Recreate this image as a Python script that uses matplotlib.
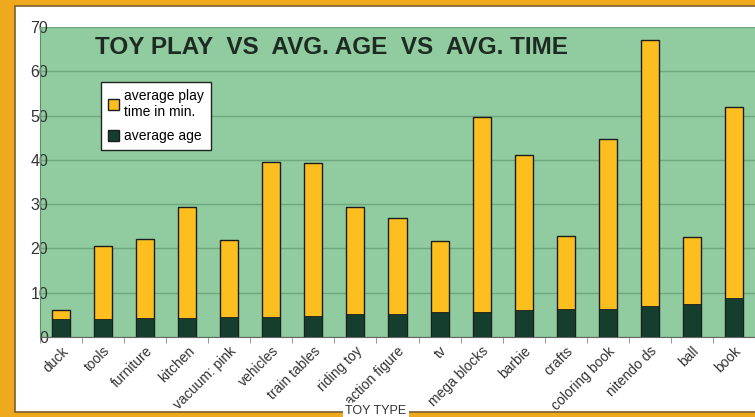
import numpy as np
import matplotlib
matplotlib.use("Agg")
import matplotlib.pyplot as plt
from matplotlib.patches import Rectangle, Patch

toys = ["duck", "tools", "furniture", "kitchen", "vacuum: pink", "vehicles",
        "train tables", "riding toy", "action figure", "tv", "mega blocks",
        "barbie", "crafts", "coloring book", "nitendo ds", "ball", "book"]
play_time = [6.0, 20.5, 22.2, 29.3, 22.0, 39.5, 39.3, 29.3, 26.9, 21.6,
             49.7, 41.0, 22.7, 44.8, 67.0, 22.5, 51.9]
avg_age = [4.0, 4.15, 4.4, 4.4, 4.6, 4.6, 4.8, 5.1, 5.3, 5.6,
           5.6, 6.1, 6.3, 6.3, 7.0, 7.5, 8.7]
yticks = [0, 10, 20, 30, 40, 50, 60, 70]

plt.rcParams['font.family'] = ['Liberation Sans', 'DejaVu Sans']

yellow = '#fdbf1f'
dark = '#163e2e'
green = '#90cc9f'
grid_green = '#6fa87f'

fig = plt.figure(figsize=(7.55, 4.17), dpi=100)
fig.patch.set_facecolor('#efa91c')

# white panel behind the chart
panel = Rectangle((15 / 755, 5 / 417), 1.0, 406 / 417, transform=fig.transFigure,
                  facecolor='white', edgecolor='#7a6030', linewidth=1.2, zorder=-5)
fig.patches.append(panel)

ax = fig.add_axes([40 / 755, 80 / 417, 715 / 755, 310 / 417])
ax.set_zorder(2)
ax.set_facecolor(green)

x = np.arange(len(toys))
ax.bar(x, play_time, width=0.43, color=yellow, edgecolor='#1c1c1c', linewidth=1.0, zorder=3)
ax.bar(x, avg_age, width=0.43, color=dark, edgecolor='#1c1c1c', linewidth=0.6, zorder=4)

ax.set_xlim(-0.5, len(toys) - 0.5)
ax.set_ylim(0, 70)
ax.set_yticks(yticks)
ax.yaxis.grid(True, color=grid_green, linewidth=1.0)
ax.set_axisbelow(True)

for s in ['top', 'right']:
    ax.spines[s].set_visible(False)
ax.spines['left'].set_color('#5f8f6c')
ax.spines['bottom'].set_color('#666666')

ax.tick_params(axis='y', length=0, pad=-6, labelsize=11.5, labelcolor='#333333')
ax.set_xticks(x)
ax.set_xticklabels(toys, rotation=45, ha='right', rotation_mode='anchor',
                   fontsize=10, color='#333333')
ax.tick_params(axis='x', length=0, pad=5)
ax.set_xticks(np.arange(-0.5, len(toys), 1), minor=True)
ax.tick_params(axis='x', which='minor', length=4, color='#888888', direction='out')

ax.text(0.077, 0.972, "TOY PLAY  VS  AVG. AGE  VS  AVG. TIME", transform=ax.transAxes,
        fontsize=17.5, fontweight='bold', color='#1e2a22', va='top', ha='left')

handles = [Patch(facecolor=yellow, edgecolor='#1c1c1c', label='average play\ntime in min.'),
           Patch(facecolor=dark, edgecolor='#1c1c1c', label='average age')]
leg = ax.legend(handles=handles, loc='upper left', bbox_to_anchor=(0.085, 0.823),
                borderaxespad=0, fontsize=10, frameon=True, fancybox=False,
                framealpha=1, handlelength=0.8, handleheight=0.8, handletextpad=0.4,
                borderpad=0.5, labelspacing=0.75)
leg.get_frame().set_edgecolor('#222222')
leg.get_frame().set_linewidth(1.0)

fig.text(376 / 755, 1 - 411 / 417, "TOY TYPE", fontsize=9, color='#333333',
         ha='center', va='center', zorder=10,
         bbox=dict(facecolor='white', edgecolor='none', pad=1.5))

fig.savefig("out.png", dpi=100, facecolor=fig.get_facecolor())
